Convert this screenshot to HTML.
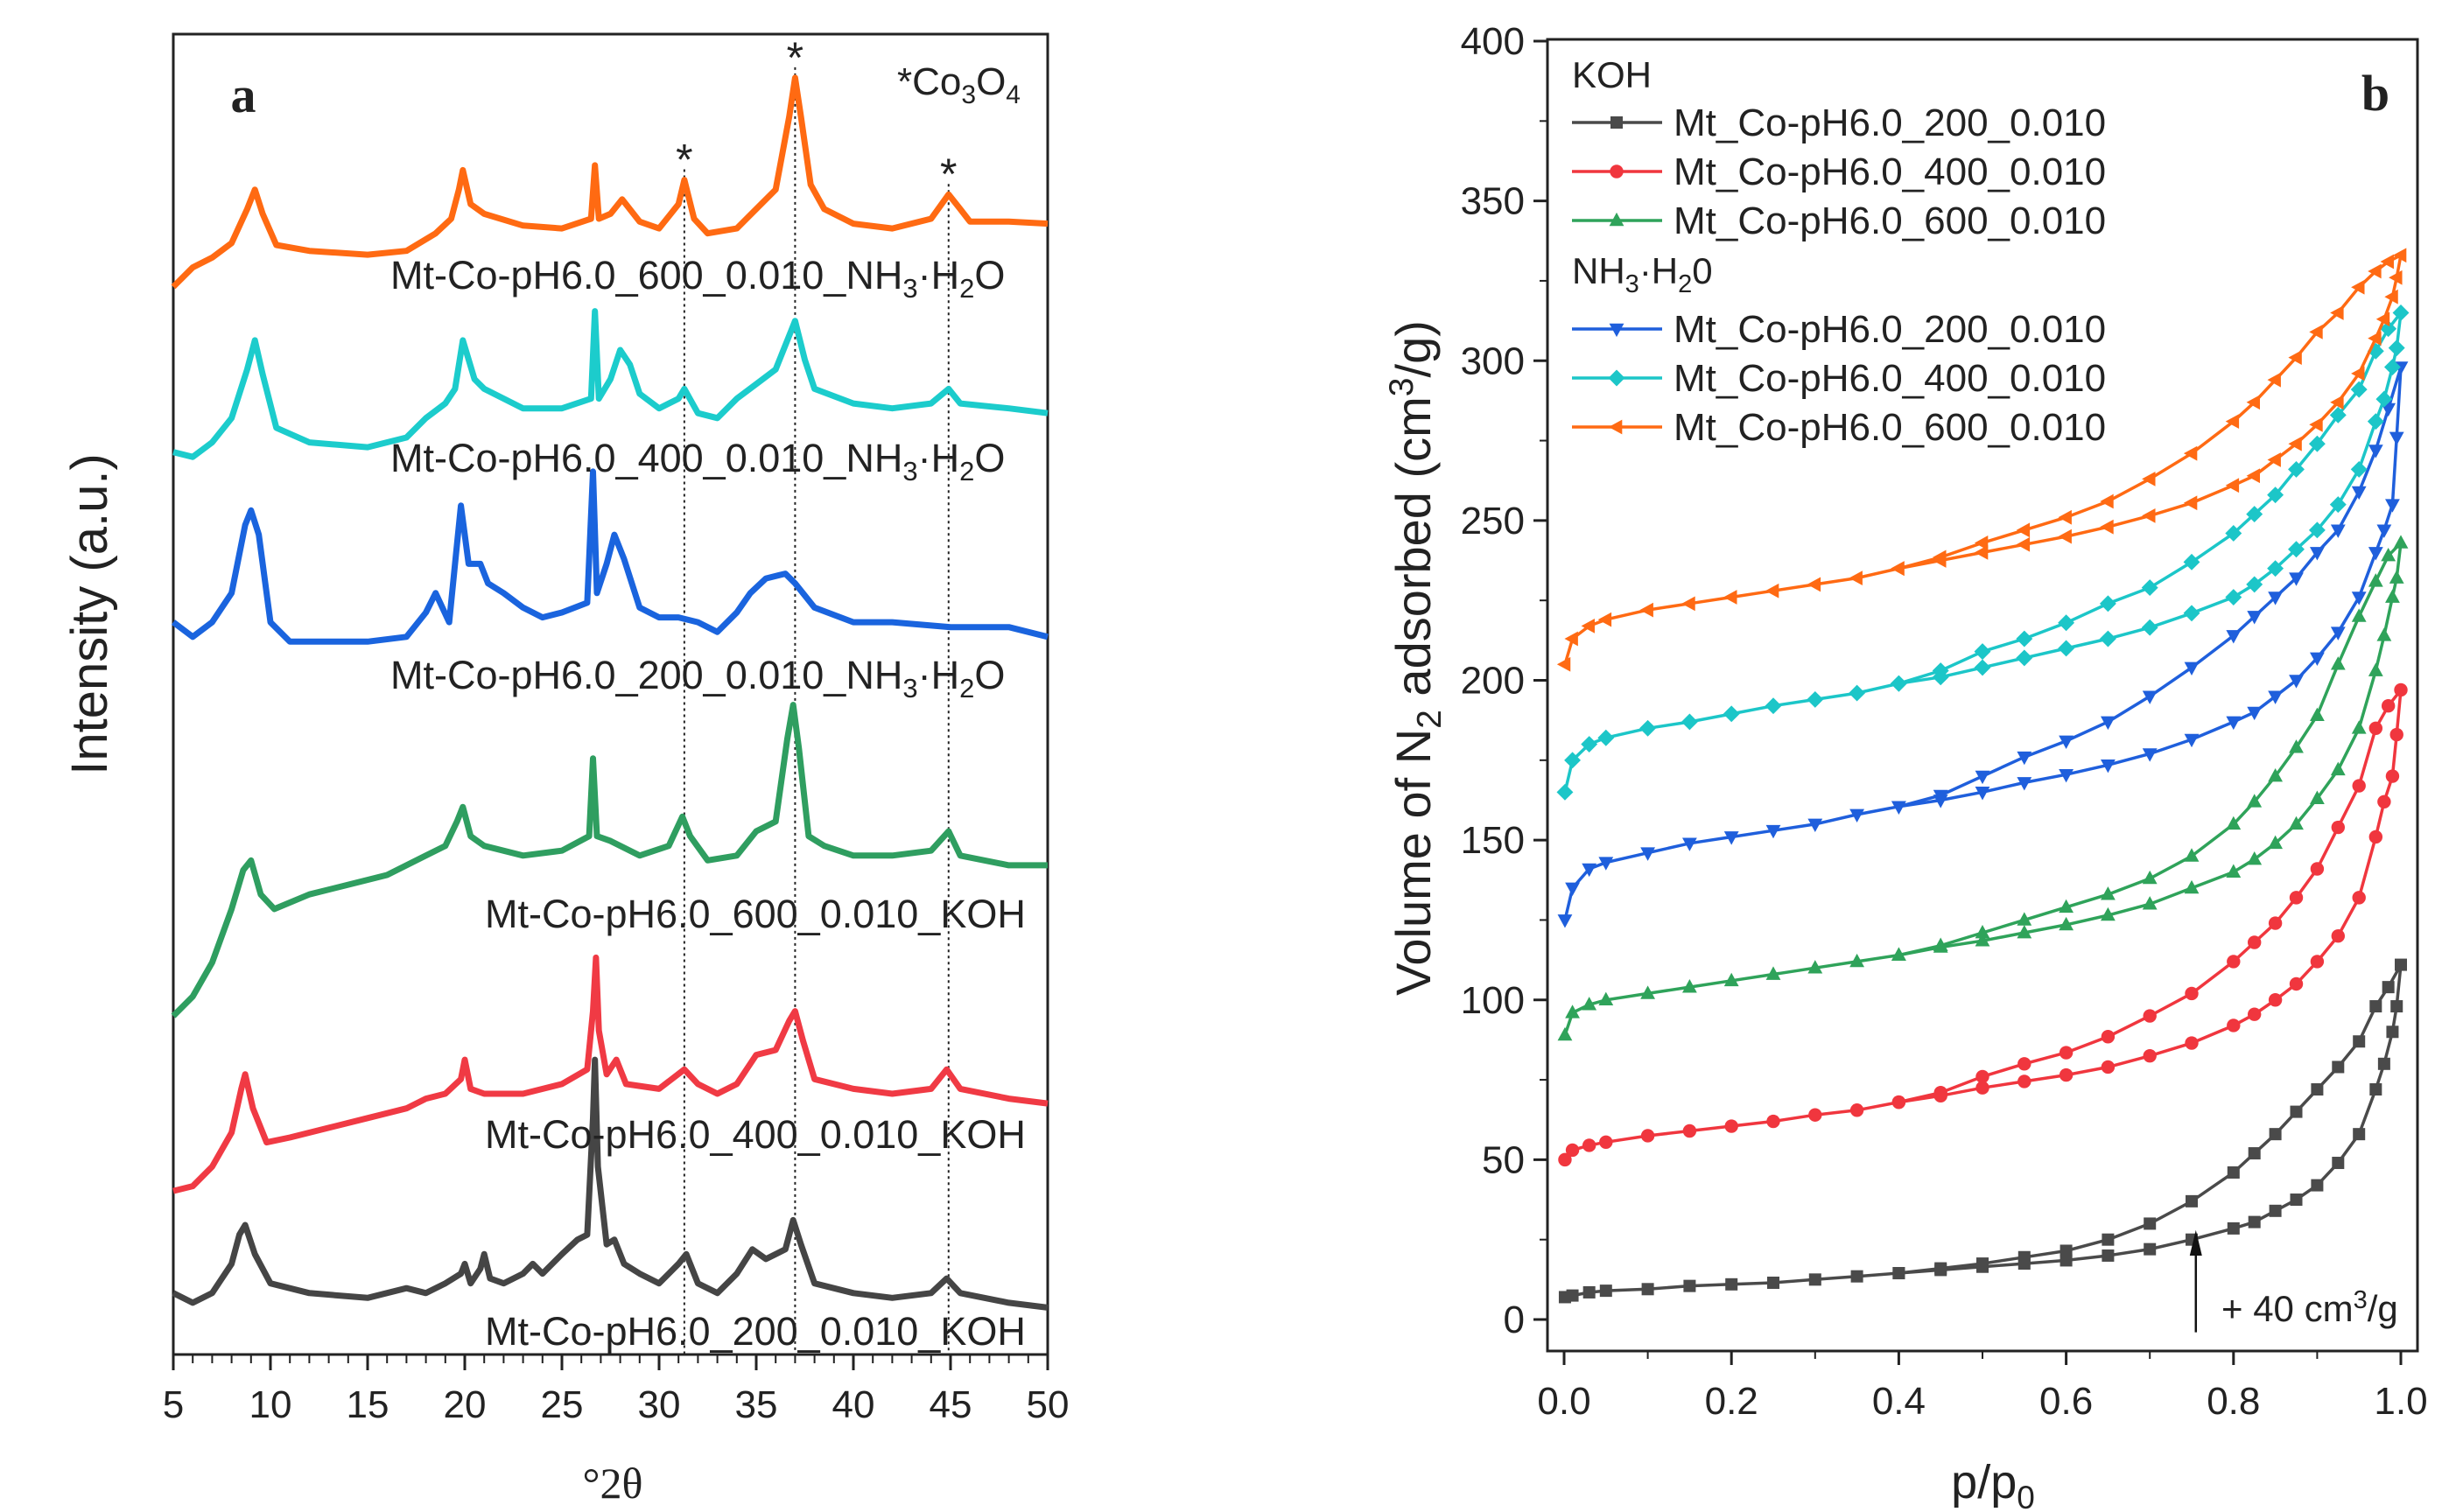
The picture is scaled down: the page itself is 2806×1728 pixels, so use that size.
<!DOCTYPE html>
<html><head><meta charset="utf-8"><style>
html,body{margin:0;padding:0;background:#fff}
svg{display:block}
text{font-family:"Liberation Sans",sans-serif;fill:#222}
</style></head><body>
<svg id="fig" width="2806" height="1728" viewBox="0 0 2806 1728" xmlns="http://www.w3.org/2000/svg">
<g id="pa"></g>
<g id="pb"></g>
</svg>
<script>
// ===== Panel a data (2θ, intensity a.u.) =====
const xrdNames = ["600_NH3","400_NH3","200_NH3","600_KOH","400_KOH","200_KOH"];
const xrdColors = ["#ff6a12","#1ccccc","#1a64de","#2f9e60","#f03a44","#454545"];
const orangeX=[5,6,7,8,8.8,9.2,9.6,10.3,12,15,17,18.5,19.3,19.7,19.9,20.3,21,23,25,26.5,26.7,26.9,27.5,28.1,29,30,31,31.3,31.8,32.5,34,35,36,36.7,37,37.3,37.8,38.5,40,42,44,44.9,45.5,46,48,50];
const orangeY=[1105,1125,1135,1150,1185,1205,1180,1148,1142,1138,1142,1160,1175,1205,1225,1190,1180,1168,1165,1175,1230,1175,1180,1195,1172,1165,1190,1215,1175,1160,1165,1185,1205,1280,1320,1280,1210,1185,1170,1165,1175,1200,1185,1172,1172,1170];
const cyanX=[5,6,7,8,8.8,9.2,9.6,10.3,12,15,17,18,19,19.5,19.9,20.5,21,23,25,26.5,26.7,26.9,27.5,28,28.5,29,30,31,31.3,32,33,34,35,36,36.8,37,37.5,38,40,42,44,44.9,45.5,48,50];
const cyanY=[935,930,945,970,1020,1050,1015,960,945,940,950,970,985,1000,1050,1010,1000,980,980,990,1080,990,1010,1040,1025,995,980,990,1000,975,970,990,1005,1020,1060,1070,1030,1000,985,980,985,1000,985,980,975];
const blueX=[5,6,7,8,8.7,9,9.4,10,11,15,17,18,18.5,19.2,19.6,19.8,20.2,20.8,21.2,22,23,24,25,26.3,26.6,26.8,27.3,27.7,28.2,29,30,31,32,33,34,34.7,35.5,36.5,37,38,40,42,45,48,50];
const blueY=[760,745,760,790,860,875,850,760,740,740,745,770,790,760,840,880,820,820,800,790,775,765,770,780,915,790,820,850,825,775,765,765,760,750,770,790,805,810,800,775,760,760,755,755,745];
const greenX=[5,6,7,8,8.6,9,9.5,10.2,12,14,16,18,19,19.6,19.9,20.3,21,23,25,26.4,26.6,26.8,27.5,29,30.5,31.2,31.6,32.5,34,35,36,36.6,36.9,37.2,37.7,38.5,40,42,44,44.9,45.5,48,50];
const greenY=[355,375,410,465,505,515,480,465,480,490,500,520,530,555,570,540,530,520,525,540,620,540,535,520,530,560,540,515,520,545,555,640,675,630,540,530,520,520,525,545,520,510,510];
const redX=[5,6,7,8,8.5,8.7,9.1,9.8,11,13,15,17,18,19,19.8,20,20.3,21,23,25,26.3,26.6,26.75,26.9,27.3,27.8,28.3,30,31.3,32,33,34,35,36,36.7,37,37.4,38,40,42,44,44.8,45.5,48,50];
const redY=[175,180,200,235,280,295,260,225,230,240,250,260,270,275,290,310,280,275,275,285,300,360,415,340,295,310,285,280,300,285,275,285,315,320,350,360,330,290,280,275,280,300,280,270,265];
const grayX=[5,6,7,8,8.4,8.7,9.2,10,12,15,17,18,19,19.8,20,20.3,20.8,21,21.3,22,23,23.5,24,25,25.8,26.3,26.6,26.7,26.85,27.3,27.7,28.2,29,30,31,31.4,32,33,34,34.8,35.5,36.5,36.9,37.3,38,40,42,44,44.8,45.5,48,50];
const grayY=[70,60,70,100,130,140,110,80,70,65,75,70,80,90,100,80,95,110,85,80,90,100,90,110,125,130,250,310,200,120,125,100,90,80,100,110,80,70,90,115,105,115,145,120,80,70,65,70,85,70,60,55];
const xrdLabels=["Mt-Co-pH6.0_600_0.010_NH","Mt-Co-pH6.0_400_0.010_NH","Mt-Co-pH6.0_200_0.010_NH","Mt-Co-pH6.0_600_0.010_KOH","Mt-Co-pH6.0_400_0.010_KOH","Mt-Co-pH6.0_200_0.010_KOH"];
const xrdTicks=[5,10,15,20,25,30,35,40,45,50];
const starPeaks=[31.3,37,44.9];
const starHeights=[1215,1320,1200];

// ===== Panel b data =====
const adsP=[0.001,0.01,0.03,0.05,0.1,0.15,0.2,0.25,0.3,0.35,0.4,0.45,0.5,0.55,0.6,0.65,0.7,0.75,0.8,0.825,0.85,0.875,0.9,0.925,0.95,0.97,0.98,0.99,0.995,1.0];
const desP=[0.985,0.97,0.95,0.925,0.9,0.875,0.85,0.825,0.8,0.75,0.7,0.65,0.6,0.55,0.5,0.45,0.4];
const grayAds=[7,7.5,8.5,9,9.5,10.5,11,11.5,12.5,13.5,14.5,15.5,16.5,17.5,18.5,20,22,25,28.5,30.5,34,37.5,42,49,58,72,80,90,98,111];
const grayDes=[104,98,87,79,72,65,58,52,46,37,30,25,21.5,19.5,17.5,16,14.5];
const redAds=[50,53,54.5,55.5,57.5,59,60.5,62,64,65.5,68,70,72.5,74.5,76.5,79,82.5,86.5,92,95.5,100,105,112,120,132,151,162,170,183,197];
const redDes=[192,185,167,154,141,132,124,118,112,102,95,88.5,83.5,80,76,71,68];
const greenAds=[89,96,98.5,100,102,104,106,108,110,112,114,116.5,118.5,121,123.5,126.5,130,135,140,144,149,155,163,172,185,203,214,226,232,243];
const greenDes=[239,231,220,205,189,179,170,162,155,145,138,133,129,125,121,117,114];
const blueAds=[125,135,141,143,146,149,151,153,155,158,160.5,162.5,165,168,170.5,173.5,177,181.5,187,190,195,200,207,215,226,240,247,255,276,298];
const blueDes=[285,272,259,247,240,232,226,220,214,204,195,187,181,176,170,164,160.5];
const cyanAds=[165,175,180,182,185,187,189.5,192,194,196,199,201,204,207,210,213,216.5,221,226,230,235,241,247,255,266,281,288,298,304,315];
const cyanDes=[310,303,291,283,274,266,258,252,246,237,229,224,218,213,209,203,199];
const orangeAds=[205,213,217,219,222,224,226,228,230,232,235,237.5,240,242.5,245,248,251.5,255.5,261,264,269,274,280,287,296,307,313,320,326,333];
const orangeDes=[331,328,323,315,309,301,294,287,281,271,263,256,251,247,243,238.5,235];
const isoNames=["Mt_Co-pH6.0_200_0.010","Mt_Co-pH6.0_400_0.010","Mt_Co-pH6.0_600_0.010","Mt_Co-pH6.0_200_0.010","Mt_Co-pH6.0_400_0.010","Mt_Co-pH6.0_600_0.010"];
const isoColors=["#4a4a4a","#f0363e","#2fa35a","#1f5fdc","#1cc6c8","#ff6a13"];
const isoMarkers=["square","circle","up","down","diamond","left"];
const yTicksB=[0,50,100,150,200,250,300,350,400];
const xTicksB=[0,0.2,0.4,0.6,0.8,1.0];

const NS="http://www.w3.org/2000/svg";
function mk(parent,tag,attrs,txt){const e=document.createElementNS(NS,tag);for(const k in attrs)e.setAttribute(k,attrs[k]);if(txt!==undefined)e.textContent=txt;parent.appendChild(e);return e;}

// ----- Panel a -----
const pa=document.getElementById('pa');
const AL=198,AR=1197,AT=39,AB=1548;
const xa=t=>AL+(t-5)/45*(AR-AL);
const ya=v=>(1400-v)/0.9;
let f=mk(pa,'rect',{x:AL,y:AT,width:AR-AL,height:AB-AT,fill:'none',stroke:'#222','stroke-width':3});


const xs=[orangeX,cyanX,blueX,greenX,redX,grayX], ys=[orangeY,cyanY,blueY,greenY,redY,grayY];
starPeaks.forEach((p,i)=>{
  const l=mk(pa,'line',{x1:xa(p),x2:xa(p),y1:ya(starHeights[i])-12,y2:AB,stroke:'#222','stroke-width':2,'stroke-dasharray':'3,4'});
  
  
  const s=mk(pa,'text',{x:xa(p),y:ya(starHeights[i])-6,'text-anchor':'middle','font-size':50},'*');
  
  
});
xs.forEach((X,i)=>{
  const d=X.map((t,j)=>(j?'L':'M')+xa(t).toFixed(1)+','+ya(ys[i][j]).toFixed(1)).join('');
  const p=mk(pa,'path',{d:d,fill:'none',stroke:xrdColors[i],'stroke-width':7,'stroke-linejoin':'round'});
  
  
});
const labPos=[[446,330],[446,539],[446,787],[554,1060],[554,1312],[554,1537]];
xrdLabels.forEach((s,i)=>{
  const t=mk(pa,'text',{x:labPos[i][0],y:labPos[i][1],'font-size':45});
  
  
  if(i<3){
    t.textContent=s;
    mk(t,'tspan',{'font-size':31,dy:10},'3');
    mk(t,'tspan',{dy:-10},'·H');
    mk(t,'tspan',{'font-size':31,dy:10},'2');
    mk(t,'tspan',{dy:-10},'O');
  } else t.textContent=s;
});
xrdTicks.forEach(v=>{
  mk(pa,'line',{x1:xa(v),x2:xa(v),y1:AB,y2:AB+18,stroke:'#222','stroke-width':3});
  const t=mk(pa,'text',{x:xa(v),y:1620,'text-anchor':'middle','font-size':44},String(v));
  
  
});
for(let v=6;v<50;v++){if(v%5)mk(pa,'line',{x1:xa(v),x2:xa(v),y1:AB,y2:AB+10,stroke:'#222','stroke-width':2});}
let t=mk(pa,'text',{x:700,y:1712,'text-anchor':'middle','font-size':50,style:'font-family:"Liberation Serif",serif'},'°2θ');

t=mk(pa,'text',{x:0,y:0,'text-anchor':'middle','font-size':58,transform:'translate(122,702) rotate(-90)'},'Intensity (a.u.)');

t=mk(pa,'text',{x:278,y:128,'text-anchor':'middle','font-size':58,'font-weight':'bold',style:'font-family:"Liberation Serif",serif'},'a');

t=mk(pa,'text',{x:1025,y:108,'font-size':44},'*Co');

mk(t,'tspan',{'font-size':30,dy:10},'3');mk(t,'tspan',{dy:-10},'O');mk(t,'tspan',{'font-size':30,dy:10},'4');

// ----- Panel b -----
const pb=document.getElementById('pb');
const BL=1768,BR=2762,BT=45,BB=1544;
const xb=p=>1787+p*(2743-1787);
const yb=v=>1508-v*(1508-47)/400;
f=mk(pb,'rect',{x:BL,y:BT,width:BR-BL,height:BB-BT,fill:'none',stroke:'#222','stroke-width':3});


yTicksB.forEach(v=>{
  mk(pb,'line',{x1:BL-16,x2:BL,y1:yb(v),y2:yb(v),stroke:'#222','stroke-width':3});
  const t=mk(pb,'text',{x:BL-26,y:yb(v)+15,'text-anchor':'end','font-size':44},String(v));
  
});
for(let v=25;v<400;v+=50)mk(pb,'line',{x1:BL-9,x2:BL,y1:yb(v),y2:yb(v),stroke:'#222','stroke-width':2});
xTicksB.forEach(v=>{
  mk(pb,'line',{x1:xb(v),x2:xb(v),y1:BB,y2:BB+16,stroke:'#222','stroke-width':3});
  const t=mk(pb,'text',{x:xb(v),y:1616,'text-anchor':'middle','font-size':44},v.toFixed(1));
  
});
for(let v=0.1;v<1;v+=0.2)mk(pb,'line',{x1:xb(v),x2:xb(v),y1:BB,y2:BB+9,stroke:'#222','stroke-width':2});

function marker(g,type,x,y,c,s){
  if(type==='square')return mk(g,'rect',{x:x-s,y:y-s,width:2*s,height:2*s,fill:c});
  if(type==='circle')return mk(g,'circle',{cx:x,cy:y,r:s*1.1,fill:c});
  let pts;
  if(type==='up')pts=[[x,y-s*1.3],[x+s*1.2,y+s*0.9],[x-s*1.2,y+s*0.9]];
  if(type==='down')pts=[[x,y+s*1.3],[x+s*1.2,y-s*0.9],[x-s*1.2,y-s*0.9]];
  if(type==='diamond')pts=[[x,y-s*1.35],[x+s*1.35,y],[x,y+s*1.35],[x-s*1.35,y]];
  if(type==='left')pts=[[x-s*1.3,y],[x+s*0.9,y-s*1.2],[x+s*0.9,y+s*1.2]];
  return mk(g,'polygon',{points:pts.map(p=>p.join(',')).join(' '),fill:c});
}
const adsAll=[grayAds,redAds,greenAds,blueAds,cyanAds,orangeAds];
const desAll=[grayDes,redDes,greenDes,blueDes,cyanDes,orangeDes];
adsAll.forEach((A,i)=>{
  const g=mk(pb,'g',{});
  
  
  const D=desAll[i];
  const da=adsP.map((p,j)=>(j?'L':'M')+xb(p).toFixed(1)+','+yb(A[j]).toFixed(1)).join('');
  const dd='M'+xb(1).toFixed(1)+','+yb(A[A.length-1]).toFixed(1)+desP.map((p,j)=>'L'+xb(p).toFixed(1)+','+yb(D[j]).toFixed(1)).join('');
  mk(g,'path',{d:da,fill:'none',stroke:isoColors[i],'stroke-width':3.5});
  mk(g,'path',{d:dd,fill:'none',stroke:isoColors[i],'stroke-width':3.5});
  adsP.forEach((p,j)=>marker(g,isoMarkers[i],xb(p),yb(A[j]),isoColors[i],7));
  desP.forEach((p,j)=>marker(g,isoMarkers[i],xb(p),yb(D[j]),isoColors[i],7));
});
const lg=mk(pb,'g',{});

t=mk(lg,'text',{x:1796,y:100,'font-size':42},'KOH');

t=mk(lg,'text',{x:1796,y:324,'font-size':42},'NH');

mk(t,'tspan',{'font-size':29,dy:10},'3');mk(t,'tspan',{dy:-10},'·H');mk(t,'tspan',{'font-size':29,dy:10},'2');mk(t,'tspan',{dy:-10},'0');
const legY=[140,196,252,376,432,488];
isoNames.forEach((n,i)=>{
  const e=mk(lg,'g',{});
  
  
  mk(e,'line',{x1:1796,x2:1899,y1:legY[i],y2:legY[i],stroke:isoColors[i],'stroke-width':3.5});
  marker(e,isoMarkers[i],1847,legY[i],isoColors[i],7);
  mk(e,'text',{x:1912,y:legY[i]+15,'font-size':44},n);
});
t=mk(pb,'text',{x:2714,y:126,'text-anchor':'middle','font-size':58,'font-weight':'bold',style:'font-family:"Liberation Serif",serif'},'b');

t=mk(pb,'text',{x:2277,y:1712,'text-anchor':'middle','font-size':54},'p/p');

mk(t,'tspan',{'font-size':37,dy:12},'0');
t=mk(pb,'text',{x:0,y:0,'text-anchor':'middle','font-size':56,transform:'translate(1634,752) rotate(-90)'},'Volume of N');

mk(t,'tspan',{'font-size':39,dy:12},'2');mk(t,'tspan',{dy:-12},' adsorbed (cm');mk(t,'tspan',{'font-size':39,dy:-20},'3');mk(t,'tspan',{dy:20},'/g)');
const ar=mk(pb,'g',{});

mk(ar,'line',{x1:xb(0.755),x2:xb(0.755),y1:yb(-4),y2:yb(22),stroke:'#111','stroke-width':2.5});
mk(ar,'polygon',{points:`${xb(0.755)},${yb(28)} ${xb(0.755)-7},${yb(20)} ${xb(0.755)+7},${yb(20)}`,fill:'#111'});
t=mk(pb,'text',{x:2538,y:1510,'font-size':42},'+ 40 cm');

mk(t,'tspan',{'font-size':29,dy:-15},'3');mk(t,'tspan',{dy:15},'/g');
</script>
</body></html>
